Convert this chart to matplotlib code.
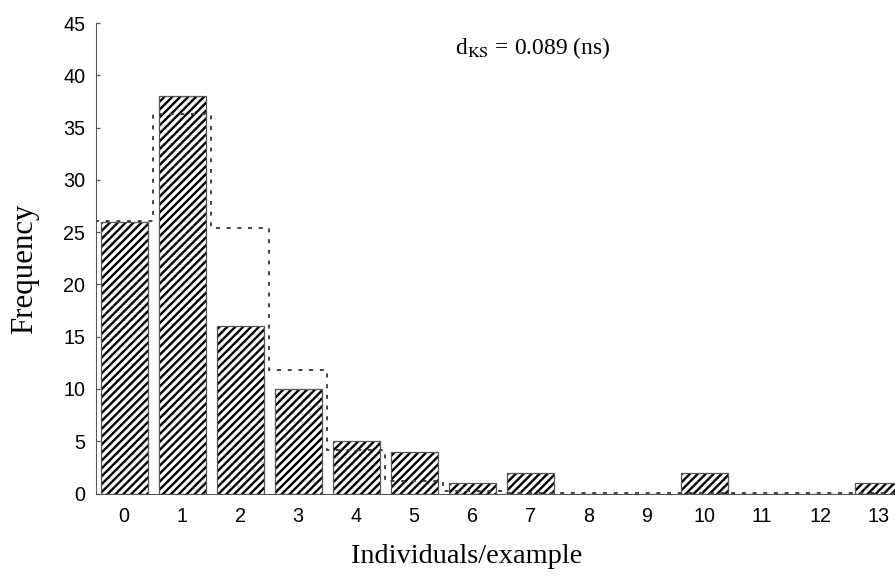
import matplotlib
matplotlib.use("Agg")
import matplotlib.pyplot as plt
import numpy as np

# observed counts per number of individuals, plus the expected (fitted) frequencies
categories = list(range(14))
observed = [26, 38, 16, 10, 5, 4, 1, 2, 0, 0, 2, 0, 0, 1]
expected = [26.1, 36.3, 25.4, 11.85, 4.2, 1.15, 0.25, 0.05, 0.05, 0.05, 0.05, 0.05, 0.05, 0.05]
tick_labels = [str(c) for c in categories]
annotation = r"d$_{\mathrm{KS}}$ = 0.089 (ns)"

plt.rcParams["mathtext.fontset"] = "stix"
plt.rcParams["hatch.linewidth"] = 1.8

dpi = 95
fig = plt.figure(figsize=(895 / dpi, 577 / dpi), dpi=dpi)
ax = fig.add_axes([0.1078, 0.1447, 1.0 - 0.1078, 0.960 - 0.1447])

x = np.array(categories)
# hatched fill, then a grey outline on top
ax.bar(x, observed, width=0.81, color="white", edgecolor="black",
       hatch="////", linewidth=0, zorder=2)
ax.bar(x, observed, width=0.81, color="none", edgecolor="#555555",
       linewidth=0.95, zorder=3)

# expected distribution as a dotted step outline
edges = np.arange(len(categories) + 1) - 0.5
ax.stairs(expected, edges, baseline=None, color="#444444", linewidth=1.5,
          linestyle=(0, (2, 3.4)), zorder=4)

ax.set_xlim(-0.478, 13.29)
ax.set_ylim(0, 45)
ax.set_yticks(range(0, 46, 5))
ax.set_xticks(x)
ax.set_xticklabels(tick_labels)

ax.spines["top"].set_visible(False)
ax.spines["right"].set_visible(False)
ax.spines["left"].set_color("#555555")
ax.spines["bottom"].set_color("#555555")

ax.tick_params(axis="y", direction="in", length=3, width=0.95, color="#555555",
               pad=8.4, labelsize=15)
ax.tick_params(axis="x", length=0, pad=10.3, labelsize=15)
for lab in ax.get_xticklabels() + ax.get_yticklabels():
    lab.set_family("Liberation Sans")

ax.set_xlabel("Individuals/example", family="Liberation Serif", fontsize=21.5)
ax.set_ylabel("Frequency", family="Liberation Serif", fontsize=23.4)
ax.xaxis.set_label_coords(0.463, -0.108)
ax.yaxis.set_label_coords(-0.072, 0.477)

ax.text(5.7, 42.6, annotation, family="Liberation Serif", fontsize=17.8,
        ha="left", va="center")

fig.savefig("out.png", dpi=dpi)
